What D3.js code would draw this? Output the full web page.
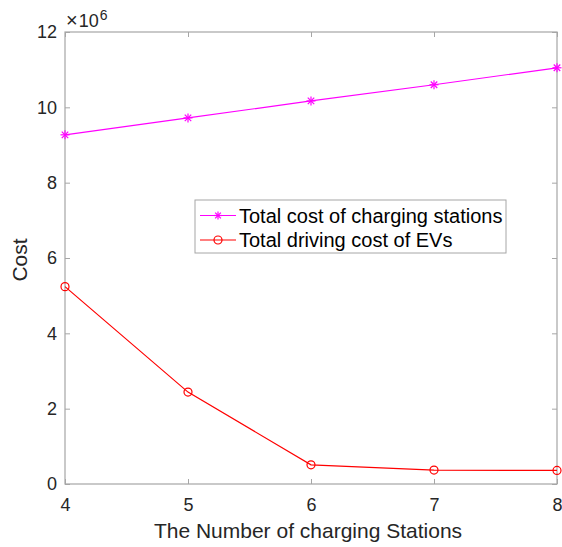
<!DOCTYPE html>
<html>
<head>
<meta charset="utf-8">
<script src="https://cdn.jsdelivr.net/npm/d3@7"></script>
<style>
  html, body { margin: 0; padding: 0; background: #fff; }
  svg { display: block; font-family: "Liberation Sans", Arial, sans-serif; }
</style>
</head>
<body>
<svg id="chart" width="562" height="547"></svg>
<script>
// Number of charging stations (x axis)
const stations = [4, 5, 6, 7, 8];
// Costs, in units of 10^6
const stationCost = [9.27, 9.72, 10.17, 10.60, 11.05];
const drivingCost = [5.24, 2.44, 0.51, 0.37, 0.36];
const xTicks = [4, 5, 6, 7, 8];
const yTicks = [0, 2, 4, 6, 8, 10, 12];
const seriesNames = ["Total cost of charging stations", "Total driving cost of EVs"];

const svg = d3.select("#chart");
const m = { left: 65, right: 557, top: 32, bottom: 484 };
const axisColor = "#a6a6a6";
const textColor = "#262626";

const x = d3.scaleLinear().domain([4, 8]).range([m.left, m.right]);
const y = d3.scaleLinear().domain([0, 12]).range([m.bottom, m.top]);

// Plot box
const g = svg.append("g");
g.append("rect")
  .attr("x", m.left).attr("y", m.top)
  .attr("width", m.right - m.left).attr("height", m.bottom - m.top)
  .attr("fill", "none").attr("stroke", axisColor).attr("stroke-width", 1.2);

// Axes with inward ticks
const tickLen = 5;
const xAxis = g.append("g").attr("transform", `translate(0,${m.bottom})`)
  .call(d3.axisBottom(x).tickValues(xTicks).tickSize(-tickLen).tickPadding(14).tickFormat(d3.format("d")));
const xAxisTop = g.append("g").attr("transform", `translate(0,${m.top})`)
  .call(d3.axisTop(x).tickValues(xTicks).tickSize(-tickLen).tickFormat(""));
const yAxis = g.append("g").attr("transform", `translate(${m.left},0)`)
  .call(d3.axisLeft(y).tickValues(yTicks).tickSize(-tickLen).tickPadding(8).tickFormat(d3.format("d")));
const yAxisRight = g.append("g").attr("transform", `translate(${m.right},0)`)
  .call(d3.axisRight(y).tickValues(yTicks).tickSize(-tickLen).tickFormat(""));

[xAxis, xAxisTop, yAxis, yAxisRight].forEach(a => {
  a.select(".domain").remove();
  a.selectAll(".tick line").attr("stroke", axisColor).attr("stroke-width", 1);
  a.selectAll(".tick text").attr("fill", textColor).style("font-size", "18px")
    .style("font-family", "'Liberation Sans', Arial, sans-serif");
});

// Exponent label
const expo = svg.append("text").attr("x", 66).attr("y", 27).attr("fill", textColor)
  .style("font-size", "18px");
expo.append("tspan").style("font-size", "20px").text("\u00d7");
expo.append("tspan").attr("dx", 1).text("10");
expo.append("tspan").attr("dx", 1).attr("dy", -7).style("font-size", "14px").text("6");

// Axis titles
svg.append("text").attr("x", (m.left + m.right) / 2 - 3).attr("y", 538)
  .attr("text-anchor", "middle").attr("fill", textColor).style("font-size", "21px")
  .text("The Number of charging Stations");
svg.append("text").attr("transform", `translate(27,260) rotate(-90)`)
  .attr("text-anchor", "middle").attr("fill", textColor).style("font-size", "21px")
  .text("Cost");

// Series
const line = d3.line().x(d => x(d[0])).y(d => y(d[1]));
const magenta = "#ff00ff", red = "#ff0000";
const s1 = stations.map((s, i) => [s, stationCost[i]]);
const s2 = stations.map((s, i) => [s, drivingCost[i]]);

function star(sel, cx, cy, r, color) {
  const gg = sel.append("g").attr("stroke", color).attr("stroke-width", 1.2);
  gg.append("line").attr("x1", cx - r).attr("x2", cx + r).attr("y1", cy).attr("y2", cy);
  gg.append("line").attr("x1", cx).attr("x2", cx).attr("y1", cy - r).attr("y2", cy + r);
  const k = r * 0.72;
  gg.append("line").attr("x1", cx - k).attr("x2", cx + k).attr("y1", cy - k).attr("y2", cy + k);
  gg.append("line").attr("x1", cx - k).attr("x2", cx + k).attr("y1", cy + k).attr("y2", cy - k);
}

g.append("path").datum(s1).attr("d", line).attr("fill", "none")
  .attr("stroke", magenta).attr("stroke-width", 1.2);
s1.forEach(d => star(g, x(d[0]), y(d[1]), 4.5, magenta));

g.append("path").datum(s2).attr("d", line).attr("fill", "none")
  .attr("stroke", red).attr("stroke-width", 1.2);
g.selectAll("circle.m2").data(s2).enter().append("circle")
  .attr("cx", d => x(d[0])).attr("cy", d => y(d[1])).attr("r", 4)
  .attr("fill", "none").attr("stroke", red).attr("stroke-width", 1.2);

// Legend
const lg = svg.append("g");
lg.append("rect").attr("x", 195).attr("y", 200).attr("width", 311).attr("height", 53)
  .attr("fill", "#fff").attr("stroke", "#a6a6a6").attr("stroke-width", 1);
const rows = [{ c: magenta, y: 215.5, t: seriesNames[0], mk: "star" },
              { c: red, y: 240, t: seriesNames[1], mk: "circle" }];
rows.forEach(r => {
  lg.append("line").attr("x1", 200).attr("x2", 236).attr("y1", r.y).attr("y2", r.y)
    .attr("stroke", r.c).attr("stroke-width", 1.2);
  if (r.mk === "star") star(lg, 218, r.y, 4, r.c);
  else lg.append("circle").attr("cx", 218).attr("cy", r.y).attr("r", 4)
    .attr("fill", "none").attr("stroke", r.c).attr("stroke-width", 1.2);
  lg.append("text").attr("x", 239).attr("y", r.y + 7).attr("fill", "#000")
    .style("font-size", "20px").text(r.t);
});
</script>
</body>
</html>
